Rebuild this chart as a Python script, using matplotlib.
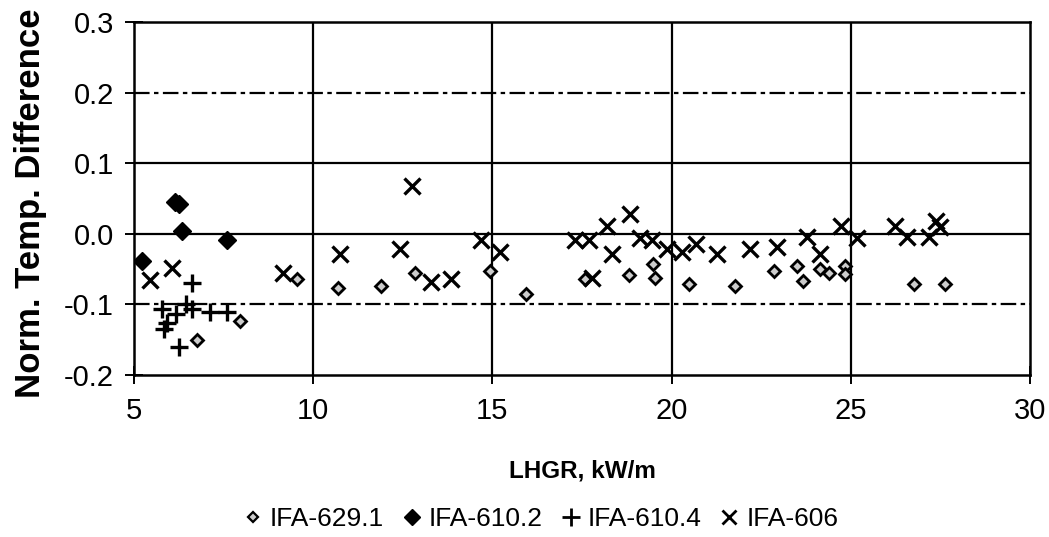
import matplotlib
matplotlib.use("Agg")
import matplotlib.pyplot as plt
from matplotlib.lines import Line2D

plt.rcParams['font.family'] = ['Liberation Sans', 'DejaVu Sans']

# IFA-629.1
lhgr_629 = [6.76, 7.97, 9.55, 10.70, 11.90, 12.85, 14.94, 15.95, 17.59, 18.80,
            19.49, 19.55, 20.48, 21.78, 22.85, 23.50, 23.68, 24.15, 24.38, 24.85,
            24.85, 26.75, 27.63]
diff_629 = [-0.151, -0.123, -0.064, -0.077, -0.074, -0.055, -0.052, -0.085, -0.064, -0.059,
            -0.043, -0.062, -0.071, -0.074, -0.052, -0.045, -0.067, -0.050, -0.055, -0.045,
            -0.057, -0.071, -0.071]

# IFA-610.2
lhgr_6102 = [6.15, 6.25, 6.34, 7.60, 5.23]
diff_6102 = [0.045, 0.042, 0.004, -0.009, -0.038]

# IFA-610.4
lhgr_6104 = [6.62, 5.79, 6.16, 6.44, 6.62, 7.13, 7.60, 5.93, 5.83, 6.25]
diff_6104 = [-0.069, -0.107, -0.114, -0.100, -0.107, -0.111, -0.111, -0.126, -0.135, -0.161]

# IFA-606
lhgr_606 = [5.44, 6.07, 9.16, 10.76, 12.41, 12.76, 13.29, 13.85, 14.69, 15.20,
            17.31, 17.69, 17.78, 18.20, 18.34, 18.85, 19.13, 19.45, 19.87, 20.29,
            20.69, 21.28, 22.18, 22.94, 23.78, 24.13, 24.73, 25.17, 26.22, 26.56,
            27.17, 27.39, 27.50]
diff_606 = [-0.066, -0.049, -0.056, -0.029, -0.022, 0.067, -0.068, -0.064, -0.009, -0.026,
            -0.009, -0.009, -0.062, 0.011, -0.029, 0.028, -0.006, -0.009, -0.022, -0.026,
            -0.015, -0.029, -0.022, -0.019, -0.005, -0.028, 0.011, -0.006, 0.011, -0.004,
            -0.004, 0.018, 0.009]

x_ticks = [5, 10, 15, 20, 25, 30]
y_ticks = [-0.2, -0.1, 0.0, 0.1, 0.2, 0.3]

W, H = 1049, 537
fig = plt.figure(figsize=(W / 100, H / 100), dpi=100)
ax = fig.add_axes([134 / W, 1 - 375 / H, (1030 - 134) / W, (375 - 22) / H])

ax.set_xlim(5, 30)
ax.set_ylim(-0.2, 0.3)

# grid: solid verticals, mixed solid / dashed horizontals
for xv in [10, 15, 20, 25]:
    ax.axvline(xv, color='black', lw=1.6, zorder=1)
for yv, ls in [(0.2, (0, (7, 2, 2, 2))), (0.1, '-'), (0.0, '-'), (-0.1, (0, (7, 2, 2, 2)))]:
    ax.axhline(yv, color='black', lw=1.6, ls=ls, zorder=1)

ax.plot(lhgr_629, diff_629, ls='none', marker='D', ms=6.5, mfc='#cccccc', mec='black',
        mew=2.0, zorder=3)
ax.plot(lhgr_6102, diff_6102, ls='none', marker='D', ms=9, mfc='black', mec='black',
        zorder=3)
ax.plot(lhgr_6104, diff_6104, ls='none', marker='+', ms=13, mew=2.4, color='black',
        zorder=3)
ax.plot(lhgr_606, diff_606, ls='none', marker='x', ms=12, mew=2.4, color='black',
        zorder=3)

for s in ax.spines.values():
    s.set_linewidth(1.8)
    s.set_color('black')

ax.set_xticks(x_ticks)
ax.set_xticklabels([str(v) for v in x_ticks])
ax.set_yticks(y_ticks)
ax.set_yticklabels([f"{v:.1f}" for v in y_ticks])
ax.tick_params(axis='both', direction='inout', length=13, width=1.4,
               labelsize=21, colors='black')
ax.tick_params(axis='x', pad=9)
ax.tick_params(axis='y', pad=8)

ax.set_xlabel('LHGR, kW/m', fontsize=17.5, fontweight='bold', labelpad=25)
fig.text(47 / W, 1 - 398 / H, 'Norm. Temp. Difference', rotation=90,
         ha='right', va='bottom', fontsize=25, fontweight='bold')

handles = [
    Line2D([], [], ls='none', marker='D', ms=5, mfc='#cccccc', mec='black', mew=1.6),
    Line2D([], [], ls='none', marker='D', ms=8, mfc='black', mec='black'),
    Line2D([], [], ls='none', marker='+', ms=13, mew=2.0, color='black'),
    Line2D([], [], ls='none', marker='x', ms=10, mew=2.0, color='black'),
]
labels = ['IFA-629.1', 'IFA-610.2', 'IFA-610.4', 'IFA-606']
fig.legend(handles, labels, loc='center', bbox_to_anchor=(541 / W, 1 - 519 / H), ncol=4,
           frameon=False, fontsize=19, handlelength=0.7, handletextpad=0.3,
           columnspacing=0.7, borderpad=0)

fig.savefig('out.png', dpi=100)
